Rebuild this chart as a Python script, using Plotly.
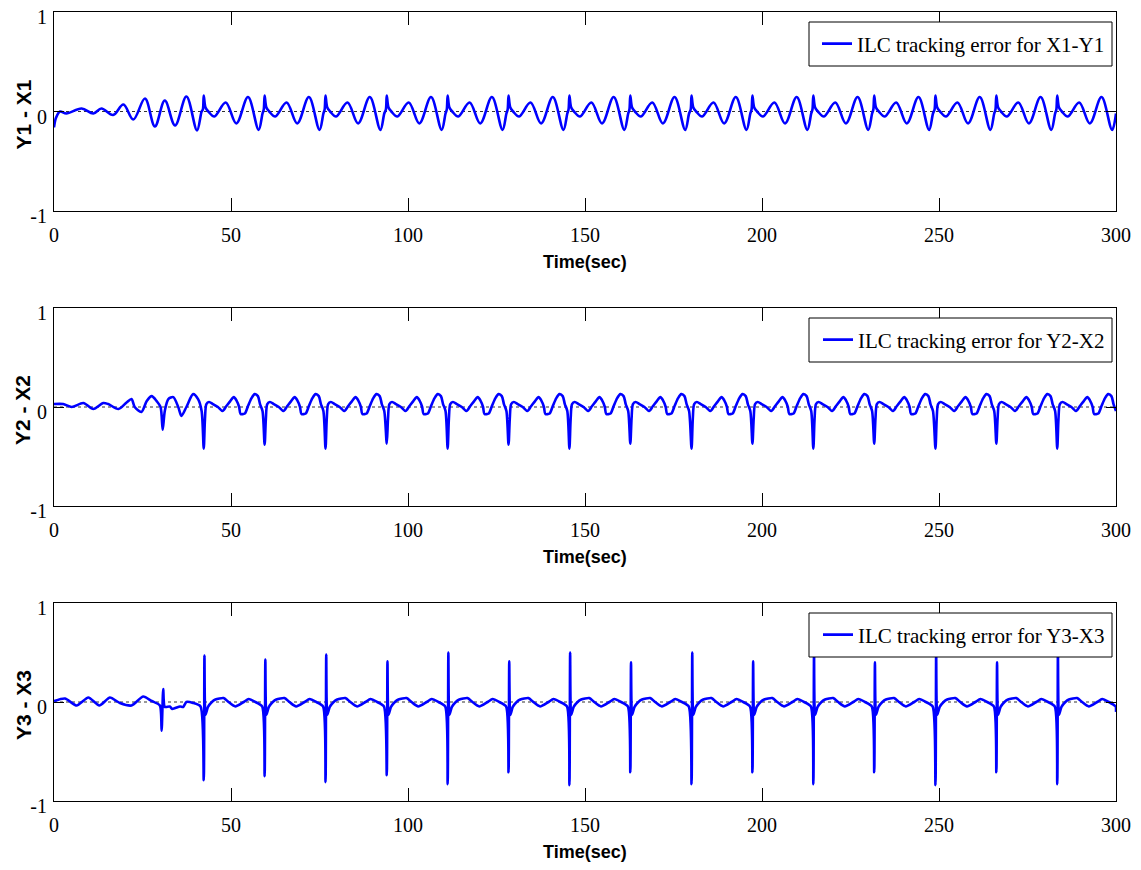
import plotly.graph_objects as go

T_END = 300.0

# Times (s) of the sharp periodic events
spike_times = [42.3, 59.5, 76.7, 94.0, 111.2, 128.4, 145.6, 162.8, 180.1,
               197.3, 214.5, 231.7, 249.0, 266.2, 283.4]

# ---------- Panel 1 : Y1 - X1 ----------
p1_start_t = [0, 0.6, 1.7, 3.5, 7.8, 11.1, 13.4, 16.7, 19.6, 22.4, 25.7,
              28.5, 31.3, 34.2, 37.4, 40.4, 41.7]
p1_start_y = [-0.16, -0.06, 0.0, -0.02, 0.03, -0.02, 0.03, -0.035, 0.07,
              -0.08, 0.13, -0.15, 0.11, -0.14, 0.15, -0.19, 0.0]
p1_cycle_dt = [-0.25, 0.0, 0.5, 1.3, 3.0, 6.2, 9.2, 12.5, 15.5, 16.6]
p1_cycle_y = [0.02, 0.16, 0.04, 0.0, -0.05, 0.09, -0.12, 0.145, -0.185, -0.02]
p1_end = [300.0, -0.08]

# ---------- Panel 2 : Y2 - X2 ----------
p2_start_t = [0, 2.6, 5.0, 8.3, 11.1, 13.9, 15.3, 18.2, 20.5, 21.9, 22.8,
              24.7, 26.2, 27.6, 29.0, 30.1, 30.7, 31.3, 32.3, 33.7, 35.1,
              36.0, 37.4, 39.3, 40.7, 41.7]
p2_start_y = [0.03, 0.03, 0.0, 0.04, -0.02, 0.04, 0.03, -0.02, 0.045, 0.08,
              0.0, -0.05, 0.06, 0.11, 0.06, 0.0, -0.23, -0.04, 0.08, 0.1,
              0.0, -0.09, 0.0, 0.13, 0.08, -0.04]
p2_cycle_dt = [0.0, 0.35, 0.75, 1.5, 2.6, 4.0, 5.3, 6.4, 7.5, 8.5, 9.2, 10.0,
               10.4, 11.6, 12.5, 13.5, 14.4, 15.3, 15.9, 16.6]
p2_cycle_y = [-0.42, -0.12, 0.03, 0.05, 0.03, 0.0, -0.04, 0.01, 0.06, 0.1,
              0.07, 0.0, -0.07, -0.065, 0.01, 0.09, 0.13, 0.11, 0.03, -0.04]
p2_spike_min = [-0.42, -0.38, -0.42, -0.37, -0.42, -0.38, -0.42, -0.37,
                -0.42, -0.37, -0.42, -0.37, -0.42, -0.37, -0.42]
p2_end = [300.0, -0.04]

# ---------- Panel 3 : Y3 - X3 ----------
p3_start_t = [0, 3.1, 6.4, 9.7, 12.8, 15.8, 18.6, 21.9, 25.2, 27.6, 29.9,
              30.4, 30.85, 31.3, 32.7, 33.4, 35.6, 36.5, 37.4, 39.3, 41.4]
p3_start_y = [0.01, 0.035, -0.035, 0.045, -0.035, 0.045, -0.01, -0.035,
              0.055, 0.01, -0.035, -0.29, 0.13, -0.05, -0.045, -0.07,
              -0.045, -0.05, 0.0, -0.01, -0.045]
p3_cycle_dt = [0.0, 0.2, 0.5, 1.2, 2.3, 3.3, 5.6, 7.0, 8.9, 11.3, 12.7,
               14.6, 16.5]
p3_cycle_y = [-0.79, 0.47, -0.13, -0.05, 0.0, 0.025, 0.04, 0.0, -0.045,
              0.0, 0.03, 0.0, -0.045]
p3_spike_min = [-0.79, -0.75, -0.81, -0.74, -0.83, -0.71, -0.84, -0.71,
                -0.83, -0.71, -0.83, -0.71, -0.84, -0.71, -0.83]
p3_spike_max = [0.47, 0.43, 0.48, 0.41, 0.50, 0.41, 0.50, 0.40, 0.50,
                0.41, 0.52, 0.40, 0.52, 0.40, 0.52]
p3_end = [300.0, -0.1]

x_tickvals = [0, 50, 100, 150, 200, 250, 300]
x_ticktext = ["0", "50", "100", "150", "200", "250", "300"]
y_tickvals = [-1, 0, 1]
y_ticktext = ["-1", "0", "1"]

legend_names = ["ILC tracking error for X1-Y1",
                "ILC tracking error for Y2-X2",
                "ILC tracking error for Y3-X3"]
y_titles = ["Y1 - X1", "Y2 - X2", "Y3 - X3"]
x_title = "Time(sec)"


def build(start_t, start_y, cdt, cy, overrides, end_pt):
    t = list(start_t)
    y = list(start_y)
    for k, s in enumerate(spike_times):
        for j, (dt, v) in enumerate(zip(cdt, cy)):
            tt = s + dt
            if tt > T_END:
                break
            if j in overrides:
                v = overrides[j][k]
            t.append(round(tt, 3))
            y.append(v)
    if t[-1] < end_pt[0]:
        t.append(end_pt[0])
        y.append(end_pt[1])
    return t, y


series = [
    build(p1_start_t, p1_start_y, p1_cycle_dt, p1_cycle_y, {}, p1_end),
    build(p2_start_t, p2_start_y, p2_cycle_dt, p2_cycle_y, {0: p2_spike_min}, p2_end),
    build(p3_start_t, p3_start_y, p3_cycle_dt, p3_cycle_y,
          {0: p3_spike_min, 1: p3_spike_max}, p3_end),
]
smooth = [1.0, 0.8, 0.6]

# layout geometry (plot area in pixels)
W, H = 1141, 870
ML, MR, MT, MB = 54, 25, 12, 69
PW = W - ML - MR
PH = H - MT - MB
panels_px = [(12, 211), (308, 506), (603, 801)]


def py(px):
    return (H - MB - px) / PH


def pxx(px):
    return (px - ML) / PW


fig = go.Figure()
serif = "Liberation Serif"
sans = "Liberation Sans"
legend_keys = ["legend", "legend2", "legend3"]

for i, (t, y) in enumerate(series):
    n = "" if i == 0 else str(i + 1)
    fig.add_trace(go.Scatter(x=[0, 300], y=[0, 0], mode="lines",
                             line=dict(color="#333333", width=1, dash="3px,3px"),
                             showlegend=False, hoverinfo="skip",
                             xaxis="x" + n, yaxis="y" + n))
    fig.add_trace(go.Scatter(x=t, y=y, mode="lines", name=legend_names[i],
                             line=dict(color="#0000FF", width=2.6, shape="spline",
                                       smoothing=smooth[i]),
                             xaxis="x" + n, yaxis="y" + n,
                             legend=legend_keys[i]))

layout = dict(template="none", width=W, height=H,
              paper_bgcolor="white", plot_bgcolor="white",
              margin=dict(l=ML, r=MR, t=MT, b=MB, pad=0, autoexpand=False),
              showlegend=True,
              font=dict(family=serif, size=20, color="black"))
annotations = []
shapes = []
for i, (top, bot) in enumerate(panels_px):
    n = "" if i == 0 else str(i + 1)
    layout["xaxis" + n] = dict(
        domain=[0, 1], anchor="y" + n, range=[0, 300], automargin=False,
        tickvals=x_tickvals, ticktext=x_ticktext,
        ticks="inside", ticklen=13, tickwidth=1, tickcolor="black",
        showline=True, linecolor="black", linewidth=1, mirror="ticks",
        showgrid=False, zeroline=False, ticklabelstandoff=6,
        ticklabeloverflow="allow",
        tickfont=dict(family=serif, size=20, color="black"))
    layout["yaxis" + n] = dict(
        domain=[py(bot), py(top)], anchor="x" + n, range=[-1, 1],
        automargin=False,
        tickvals=y_tickvals, ticktext=y_ticktext,
        ticks="inside", ticklen=10, tickwidth=1, tickcolor="black",
        showline=True, linecolor="black", linewidth=1, mirror="ticks",
        showgrid=False, zeroline=False, ticklabelstandoff=2, ticklabelshift=5,
        ticklabeloverflow="allow",
        tickfont=dict(family=serif, size=20, color="black"))
    # legend frame
    shapes.append(dict(type="rect", xref="paper", yref="paper",
                       x0=pxx(809), x1=pxx(1112), y0=py(top + 54), y1=py(top + 10),
                       fillcolor="white", line=dict(color="black", width=1),
                       layer="above"))
    layout[legend_keys[i]] = dict(
        x=pxx(1110), xanchor="right",
        y=py(top + 32), yanchor="middle",
        bgcolor="rgba(0,0,0,0)", borderwidth=0,
        font=dict(family=serif, size=21, color="black"))
    annotations.append(dict(text=x_title, xref="x" + n + " domain", x=0.5,
                            yref="y" + n + " domain", y=0, yanchor="middle",
                            yshift=-51, showarrow=False,
                            font=dict(family=sans, size=18, color="black",
                                      weight="bold")))
    annotations.append(dict(text=y_titles[i], xref="paper", x=0, xshift=-31,
                            xanchor="center", yref="y" + n + " domain", y=0.5,
                            yanchor="middle", yshift=-3, textangle=-90,
                            showarrow=False,
                            font=dict(family=sans, size=21, color="black",
                                      weight="bold")))
layout["annotations"] = annotations
layout["shapes"] = shapes
fig.update_layout(**layout)
fig.write_html("out.html")
